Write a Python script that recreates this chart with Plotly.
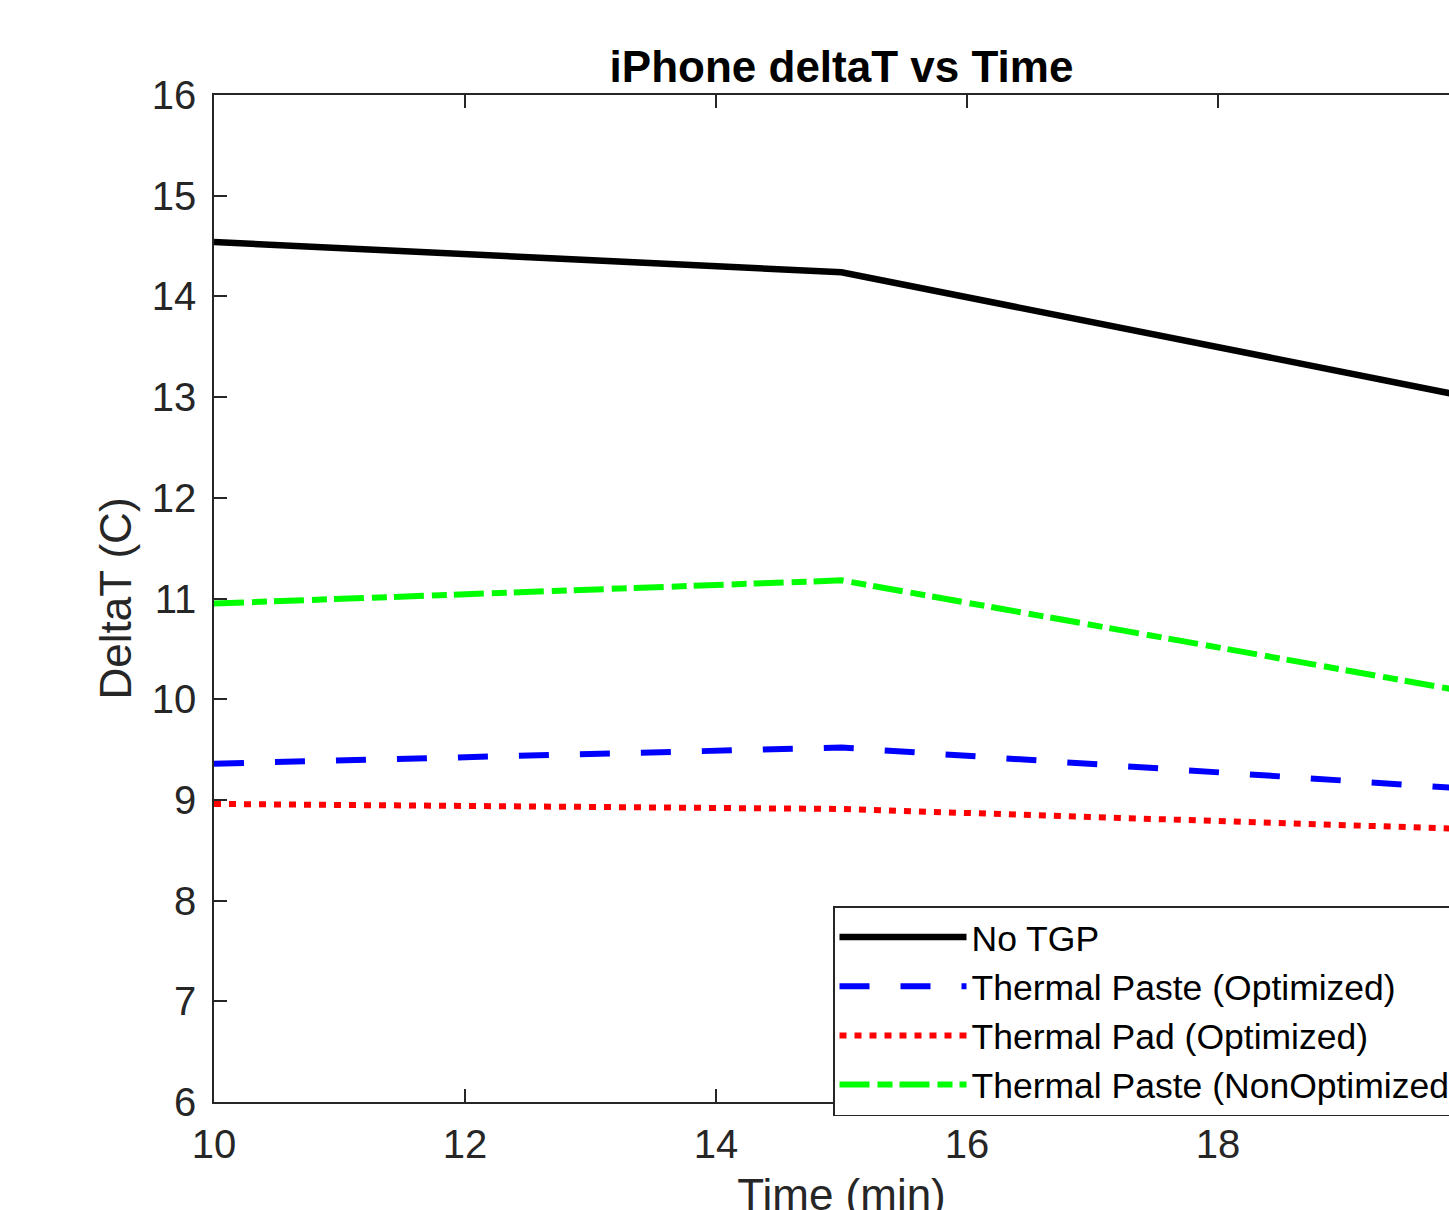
import plotly.graph_objects as go

time_min = [10, 15, 20]
no_tgp = [14.54, 14.24, 13.00]
paste_opt = [9.36, 9.52, 9.11]
pad_opt = [8.96, 8.91, 8.71]
paste_nonopt = [10.95, 11.18, 10.07]

series_names = ["No TGP", "Thermal Paste (Optimized)", "Thermal Pad (Optimized)",
                "Thermal Paste (NonOptimized)"]
x_ticks = [10, 12, 14, 16, 18]
y_ticks = list(range(6, 17))

FONT = "Liberation Sans, Arial, Helvetica, sans-serif"
AX = "#262626"

fig = go.Figure()
fig.add_trace(go.Scatter(x=time_min, y=no_tgp, mode="lines", name=series_names[0],
                         line=dict(color="#000000", width=6.5)))
fig.add_trace(go.Scatter(x=time_min, y=paste_opt, mode="lines", name=series_names[1],
                         line=dict(color="#0000ff", width=6, dash="30px,31px")))
fig.add_trace(go.Scatter(x=time_min, y=pad_opt, mode="lines", name=series_names[2],
                         line=dict(color="#ff0000", width=6, dash="7px,8px")))
fig.add_trace(go.Scatter(x=time_min, y=paste_nonopt, mode="lines", name=series_names[3],
                         line=dict(color="#00ff00", width=6, dash="30px,8px,15px,7px")))

L, T, PW, PH = 214, 95, 1255, 1007
R, B = 80, 150

fig.update_layout(
    width=L + PW + R, height=T + PH + B,
    margin=dict(l=L, r=R, t=T, b=B, autoexpand=False),
    paper_bgcolor="white", plot_bgcolor="white",
    font=dict(family=FONT, color=AX, size=40),
    title=dict(text="<b>iPhone deltaT vs Time</b>", x=0.5, xref="paper", xanchor="center",
               y=1, yref="paper", yanchor="bottom", pad=dict(b=13),
               font=dict(family=FONT, size=44, color="#000000")),
    showlegend=True,
    legend=dict(x=(833 - L) / PW, y=(1102 - 906) / PH, xanchor="left", yanchor="top",
                bgcolor="white", bordercolor=AX, borderwidth=1.5,
                font=dict(family=FONT, size=35.5, color="#000000"),
                itemwidth=127, tracegroupgap=0),
)
fig.update_xaxes(range=[10, 20], tickvals=x_ticks,
                 showline=True, linecolor=AX, linewidth=1.5, mirror="ticks",
                 ticks="inside", ticklen=13, tickwidth=1.5, tickcolor=AX,
                 showgrid=False, zeroline=False, ticklabelstandoff=6,
                 tickfont=dict(size=40, color=AX),
                 title=dict(text="Time (min)", font=dict(size=44, color=AX), standoff=14))
fig.update_yaxes(range=[6, 16], tickvals=y_ticks,
                 showline=True, linecolor=AX, linewidth=1.5, mirror=False,
                 ticks="inside", ticklen=13, tickwidth=1.5, tickcolor=AX,
                 showgrid=False, zeroline=False, ticklabelstandoff=8,
                 tickfont=dict(size=40, color=AX),
                 title=dict(text="DeltaT (C)", font=dict(size=44, color=AX), standoff=6))

fig.write_html("out.html")
